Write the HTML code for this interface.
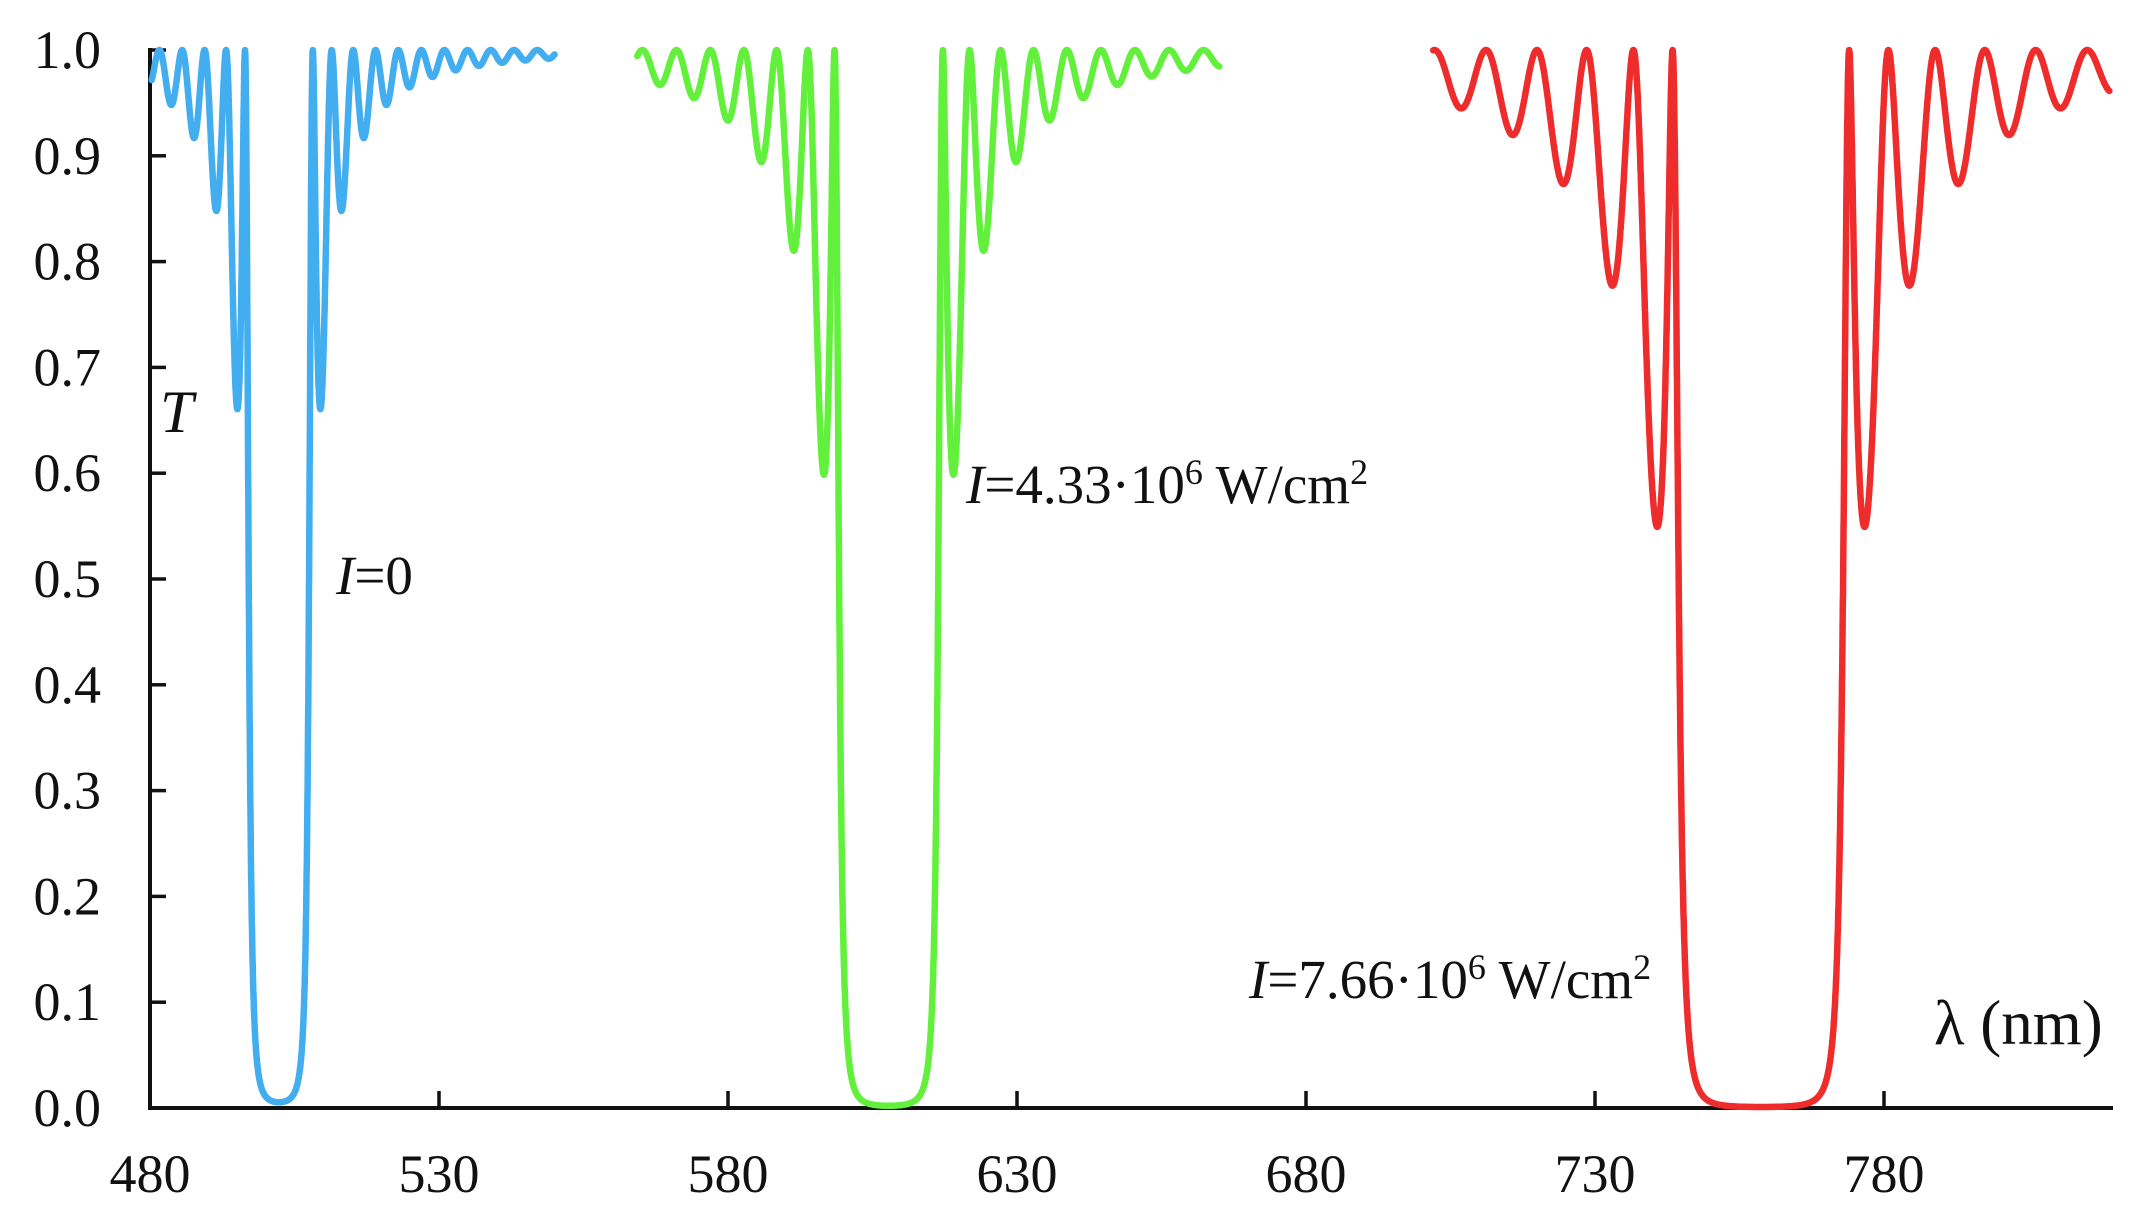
<!DOCTYPE html>
<html><head><meta charset="utf-8"><style>
html,body{margin:0;padding:0;background:#fff;}
svg{display:block;}
text{font-family:"Liberation Serif",serif;fill:#111;}
</style></head><body>
<svg id="s" width="2129" height="1214" viewBox="0 0 2129 1214" xmlns="http://www.w3.org/2000/svg">
<g id="axes" stroke="#111" stroke-width="4" fill="none">
<line x1="150" y1="48" x2="150" y2="1110"/>
<line x1="148" y1="1108" x2="2113" y2="1108"/>
</g>
<g id="ticks" stroke="#111" stroke-width="3.5"></g>
<g id="curves" fill="none" stroke-width="6.5" stroke-linejoin="round" stroke-linecap="round"></g>
<g id="labels" font-size="54"></g>
<text x="160" y="432" font-size="60" font-style="italic">T</text>
<text x="336" y="594" font-size="55"><tspan font-style="italic">I</tspan>=0</text>
<text x="966" y="503" font-size="55"><tspan font-style="italic">I</tspan>=4.33·10<tspan font-size="36" dy="-19">6</tspan><tspan dy="19"> W/cm</tspan><tspan font-size="36" dy="-19">2</tspan></text>
<text x="1249" y="998" font-size="55"><tspan font-style="italic">I</tspan>=7.66·10<tspan font-size="36" dy="-19">6</tspan><tspan dy="19"> W/cm</tspan><tspan font-size="36" dy="-19">2</tspan></text>
<text x="1934" y="1044" font-size="63">λ (nm)</text>
</svg>
<script>
var NS="http://www.w3.org/2000/svg";
var y0=1108,y1=50,x0=150,pxnm=5.78;
function X(l){return x0+(l-480)*pxnm;}
function Y(t){return y0-(y0-y1)*t;}
var tk=document.getElementById('ticks'),lb=document.getElementById('labels');
for(var i=0;i<=10;i++){var y=Y(i/10);
 var l=document.createElementNS(NS,'line');l.setAttribute('x1',150);l.setAttribute('x2',166);l.setAttribute('y1',y);l.setAttribute('y2',y);tk.appendChild(l);
 var t=document.createElementNS(NS,'text');t.setAttribute('x',101);t.setAttribute('y',y+18);t.setAttribute('text-anchor','end');t.textContent=(i/10).toFixed(1);lb.appendChild(t);}
for(var v=480;v<=780;v+=50){var x=X(v);
 if(v>480){var l=document.createElementNS(NS,'line');l.setAttribute('x1',x);l.setAttribute('x2',x);l.setAttribute('y1',1108);l.setAttribute('y2',1091);tk.appendChild(l);}
 var t=document.createElementNS(NS,'text');t.setAttribute('x',x);t.setAttribute('y',1192);t.setAttribute('text-anchor','middle');t.textContent=v;lb.appendChild(t);}
function T(d,L){var d2=d*d;
 if(Math.abs(d)<1){var g=Math.sqrt(1-d2),c=Math.cosh(g*L),s=Math.sinh(g*L);return g*g/(g*g*c*c+d2*s*s);}
 if(Math.abs(d)==1)return 1/(1+L*L);
 var s_=Math.sqrt(d2-1),c=Math.cos(s_*L),sn=Math.sin(s_*L);return s_*s_/(s_*s_*c*c+d2*sn*sn);}
function curve(a,b,c,w,L,col){var p='';for(var l=a;l<=b;l+=0.02){var tt=T((l-c)/w,L);p+=(p?'L':'M')+X(l).toFixed(1)+' '+Y(tt).toFixed(1);}
 var e=document.createElementNS(NS,'path');e.setAttribute('d',p);e.setAttribute('stroke',col);document.getElementById('curves').appendChild(e);}
curve(480.3,550,502.3,4.25,3.3,'#42adef');
curve(564.3,665,607.8,7.2,3.77,'#62f03c');
curve(702,819,758.7,12.2,4.17,'#ee2c2c');
</script>
</body></html>
